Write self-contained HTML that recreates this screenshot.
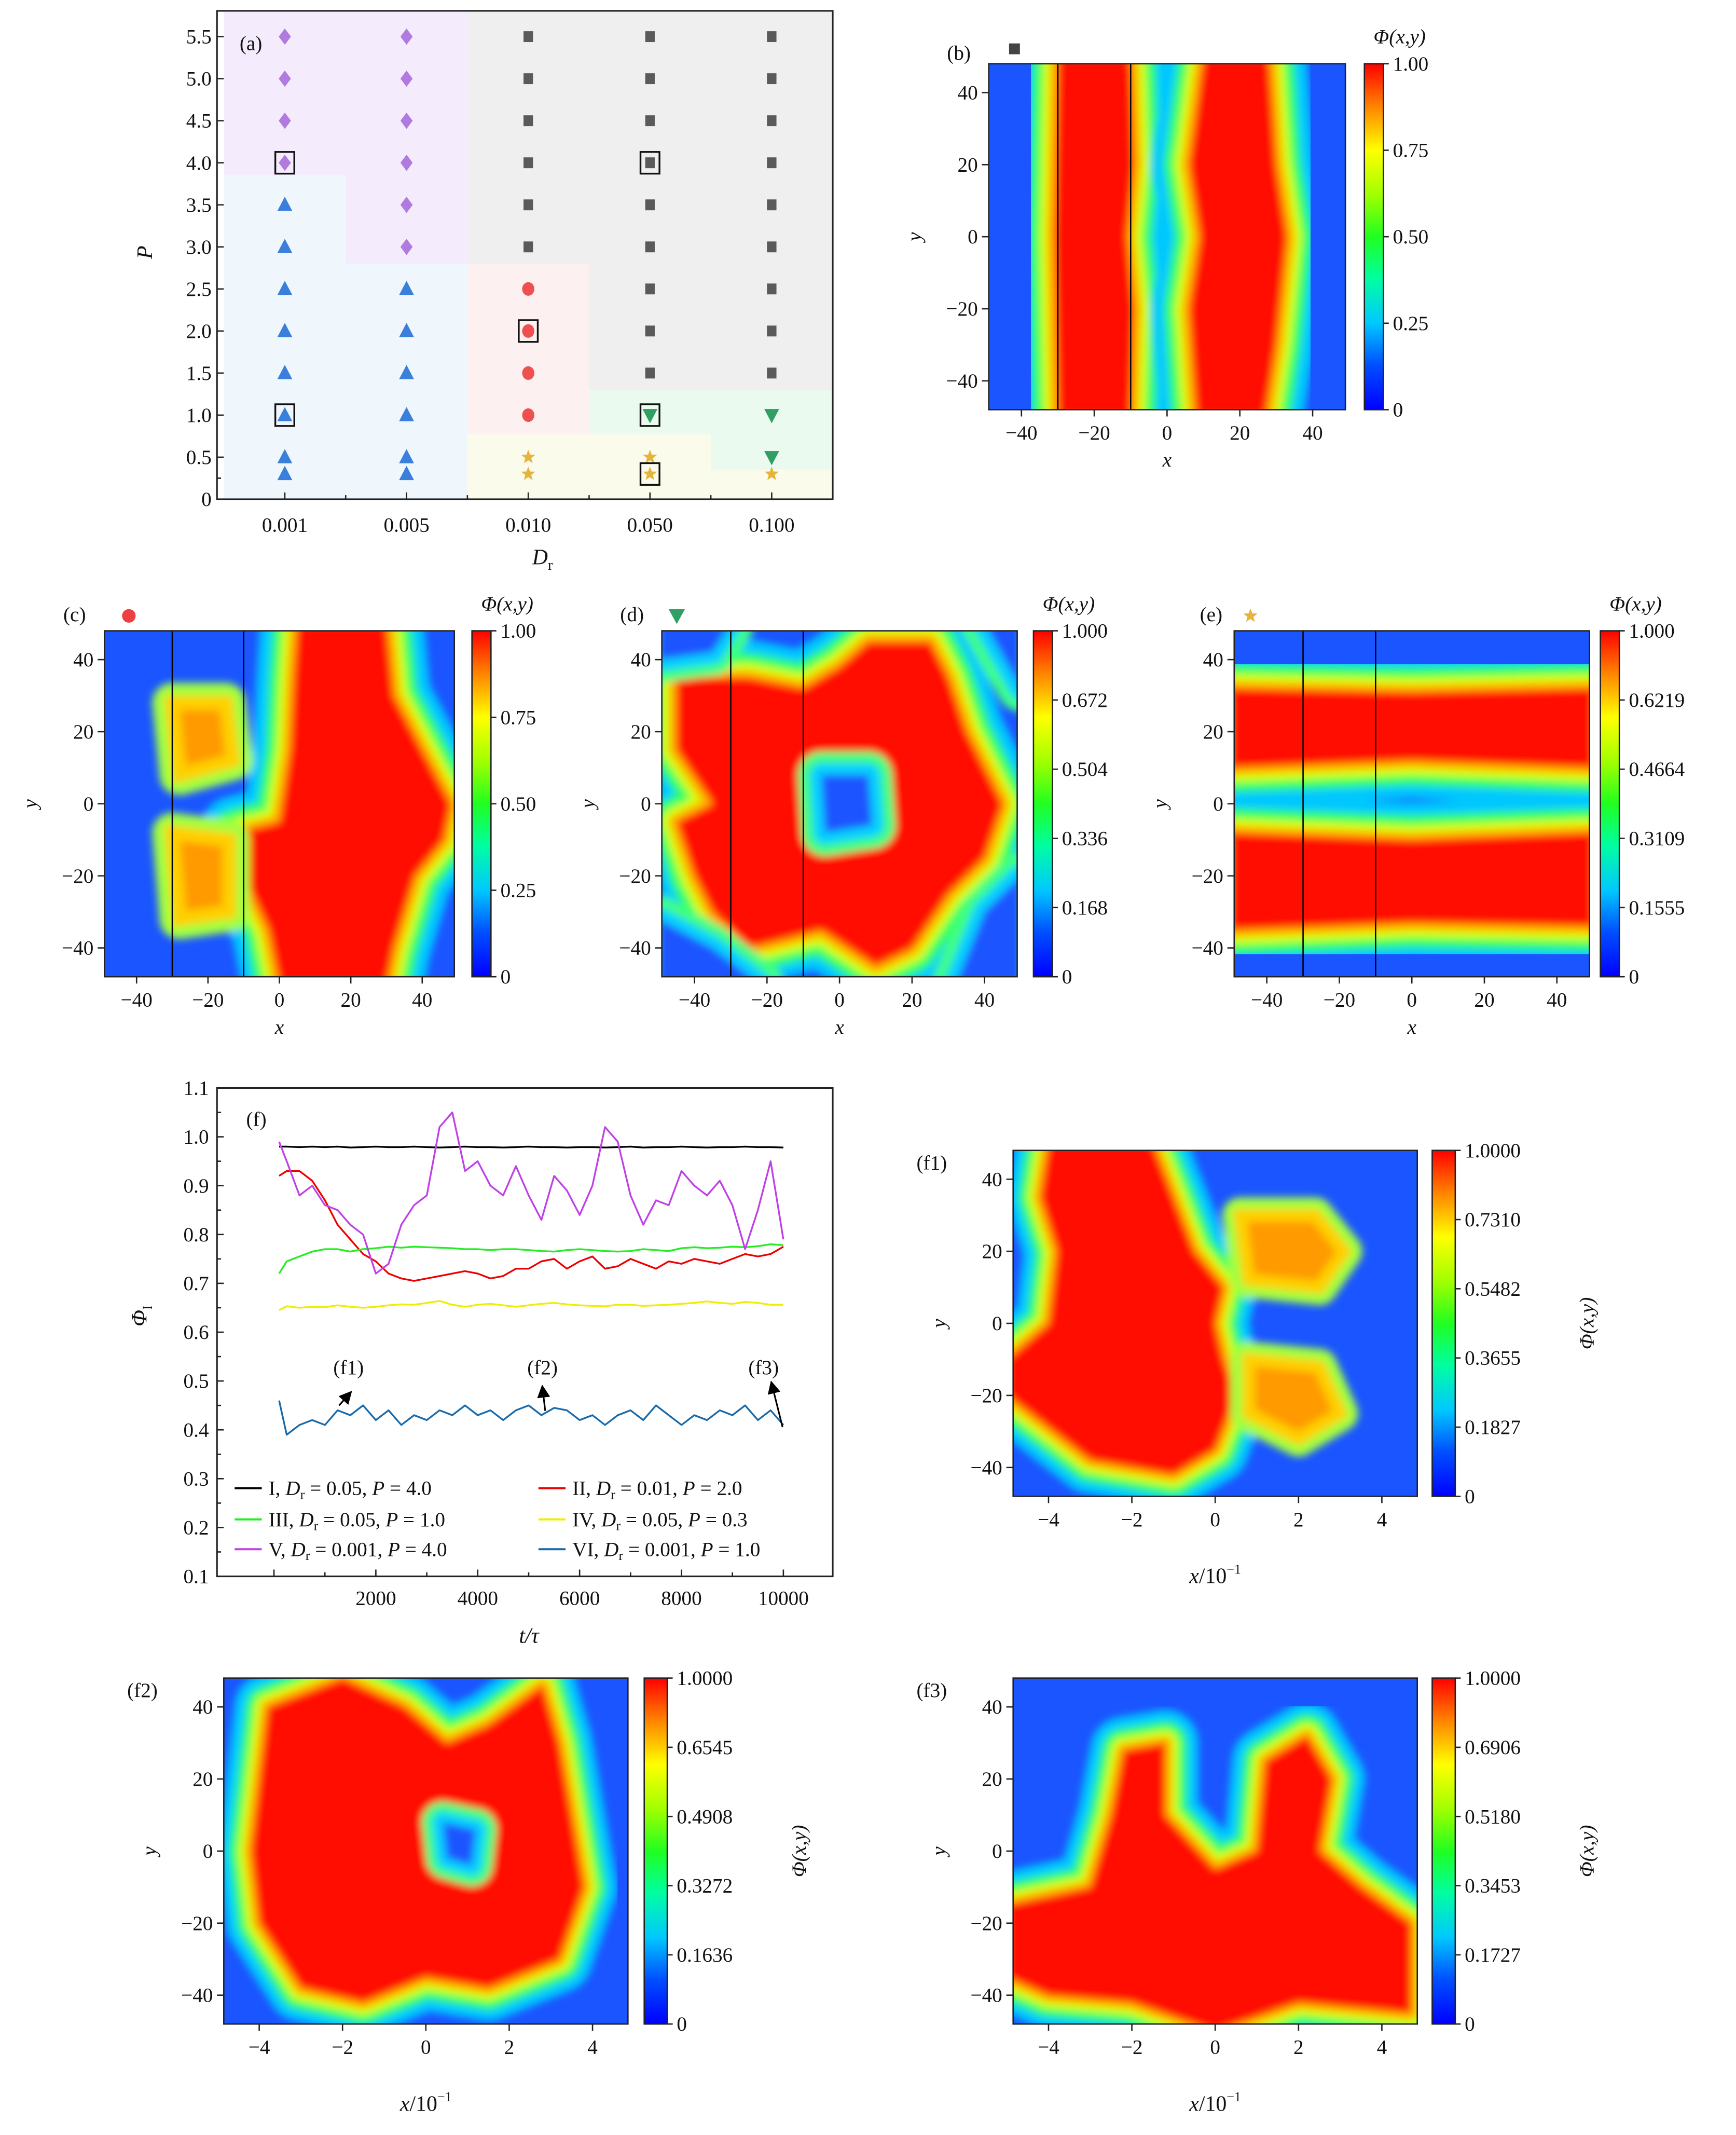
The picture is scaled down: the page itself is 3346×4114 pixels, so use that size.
<!DOCTYPE html>
<html><head><meta charset="utf-8">
<style>
html,body{margin:0;padding:0;background:#fff;}
svg{display:block;font-family:"Liberation Serif",serif;}
</style></head>
<body>
<svg id="fig" xmlns="http://www.w3.org/2000/svg" width="3346" height="4114" viewBox="0 0 1280 1573.8">
<defs>
<linearGradient id="jet" x1="0" y1="1" x2="0" y2="0">
<stop offset="0" stop-color="#0000ff"/><stop offset="0.13" stop-color="#0050ff"/><stop offset="0.25" stop-color="#00c8ff"/><stop offset="0.38" stop-color="#00ffa0"/><stop offset="0.5" stop-color="#20ff20"/><stop offset="0.62" stop-color="#a0ff00"/><stop offset="0.75" stop-color="#ffff00"/><stop offset="0.88" stop-color="#ff8000"/><stop offset="1" stop-color="#ff0000"/>
</linearGradient>
<filter id="blur" x="-10%" y="-10%" width="120%" height="120%"><feGaussianBlur stdDeviation="3"/></filter>
<marker id="arr" markerWidth="8" markerHeight="8" refX="6" refY="4" orient="auto"><path d="M0,0 L8,4 L0,8 z" fill="#000"/></marker>
</defs>
</svg>
<script>
// ---------- Panel (a) data ----------
const aCategories=['0.001','0.005','0.010','0.050','0.100'];
const aTicksP=[0,0.5,1,1.5,2,2.5,3,3.5,4,4.5,5,5.5];
const aPointCol=[0,0,0,0,0,0,0,0,0,0,0,0, 1,1,1,1,1,1,1,1,1,1,1,1, 2,2,2,2,2,2,2,2,2,2,2,2, 3,3,3,3,3,3,3,3,3,3,3,3, 4,4,4,4,4,4,4,4,4,4,4,4];
const aPointP=[0.3,0.5,1,1.5,2,2.5,3,3.5,4,4.5,5,5.5, 0.3,0.5,1,1.5,2,2.5,3,3.5,4,4.5,5,5.5, 0.3,0.5,1,1.5,2,2.5,3,3.5,4,4.5,5,5.5, 0.3,0.5,1,1.5,2,2.5,3,3.5,4,4.5,5,5.5, 0.3,0.5,1,1.5,2,2.5,3,3.5,4,4.5,5,5.5];
const aPointType=['tri','tri','tri','tri','tri','tri','tri','tri','dia','dia','dia','dia',
 'tri','tri','tri','tri','tri','tri','dia','dia','dia','dia','dia','dia',
 'star','star','cir','cir','cir','cir','sq','sq','sq','sq','sq','sq',
 'star','star','dtri','sq','sq','sq','sq','sq','sq','sq','sq','sq',
 'star','dtri','dtri','sq','sq','sq','sq','sq','sq','sq','sq','sq'];
const aBoxCol=[0,0,2,3,3,3];
const aBoxP=[4,1,2,4,1,0.3];
const aRegC0=[0,1,0,1,2,3,2,3,4,2,4];
const aRegC1=[0,1,0,1,2,4,2,3,4,3,4];
const aRegP0=[3.85,2.8,0,0,2.8,1.3,0.77,0.77,0.35,0,0];
const aRegP1=[6,6,3.85,2.8,6,6,2.8,1.3,1.3,0.77,0.35];
const aRegKind=['purple','purple','blue','blue','gray','gray','pink','green','green','yellow','yellow'];

// ---------- Panel (f) data ----------
const fT=[100,250,500,750,1000,1250,1500,1750,2000,2250,2500,2750,3000,3250,3500,3750,4000,4250,4500,4750,5000,5250,5500,5750,6000,6250,6500,6750,7000,7250,7500,7750,8000,8250,8500,8750,9000,9250,9500,9750,10000];
const fI=[0.98,0.98,0.979,0.98,0.979,0.98,0.978,0.979,0.98,0.979,0.979,0.98,0.979,0.978,0.979,0.98,0.979,0.979,0.978,0.979,0.98,0.979,0.979,0.978,0.979,0.979,0.978,0.979,0.98,0.978,0.979,0.979,0.98,0.979,0.978,0.979,0.979,0.98,0.979,0.979,0.978];
const fII=[0.92,0.93,0.93,0.91,0.87,0.82,0.79,0.76,0.745,0.72,0.71,0.705,0.71,0.715,0.72,0.725,0.72,0.71,0.715,0.73,0.73,0.745,0.75,0.73,0.745,0.755,0.73,0.735,0.75,0.74,0.73,0.745,0.74,0.75,0.745,0.74,0.75,0.76,0.755,0.76,0.775];
const fIII=[0.72,0.745,0.755,0.765,0.77,0.77,0.765,0.77,0.772,0.775,0.773,0.775,0.774,0.773,0.772,0.77,0.77,0.768,0.77,0.77,0.768,0.766,0.765,0.768,0.77,0.768,0.766,0.765,0.766,0.77,0.768,0.766,0.772,0.774,0.772,0.773,0.775,0.774,0.776,0.78,0.778];
const fIV=[0.645,0.653,0.65,0.652,0.651,0.655,0.652,0.65,0.652,0.655,0.657,0.656,0.66,0.664,0.656,0.652,0.656,0.658,0.655,0.652,0.655,0.658,0.66,0.657,0.655,0.654,0.653,0.656,0.656,0.654,0.655,0.656,0.658,0.66,0.663,0.66,0.658,0.662,0.66,0.656,0.656];
const fV=[0.99,0.95,0.88,0.9,0.86,0.85,0.82,0.8,0.72,0.74,0.82,0.86,0.88,1.02,1.05,0.93,0.95,0.9,0.88,0.94,0.88,0.83,0.92,0.89,0.84,0.9,1.02,0.99,0.88,0.82,0.87,0.86,0.93,0.9,0.88,0.91,0.86,0.77,0.85,0.95,0.79];
const fVI=[0.46,0.39,0.41,0.42,0.41,0.44,0.43,0.45,0.42,0.44,0.41,0.43,0.42,0.44,0.43,0.45,0.43,0.44,0.42,0.44,0.45,0.43,0.445,0.44,0.42,0.43,0.41,0.43,0.44,0.42,0.45,0.43,0.41,0.43,0.42,0.44,0.43,0.45,0.42,0.44,0.41];
const fSeriesNames=['I','II','III','IV','V','VI'];
const fSeriesDr=['0.05','0.01','0.05','0.05','0.001','0.001'];
const fSeriesP=['4.0','2.0','1.0','0.3','4.0','1.0'];
const fYTicks=[0.1,0.2,0.3,0.4,0.5,0.6,0.7,0.8,0.9,1.0,1.1];
const fXTicks=[2000,4000,6000,8000,10000];

// ---------- heatmap blob data (data coords) ----------
const hmB_red=[[[-30,50],[-10,50],[-9,20],[-11,0],[-9,-20],[-10,-50],[-30,-50],[-31,0]],
 [[10,50],[28,50],[30,20],[33,0],[30,-30],[27,-50],[8,-50],[6,-20],[9,0],[6,20]]];
const hmC_red=[[[5,50],[30,50],[32,30],[40,15],[48,0],[46,-10],[38,-20],[32,-40],[30,-50],[0,-50],[-3,-35],[-10,-20],[-12,-8],[0,-5],[3,15],[4,35]]];
const hmC_orange=[[[-30,28],[-15,28],[-13,12],[-28,8]],[[-30,-8],[-14,-10],[-14,-30],[-28,-32]]];
const hmD_red=[[[-45,35],[-25,35],[-10,32],[0,38],[8,45],[25,45],[30,35],[35,20],[40,10],[45,0],[40,-15],[30,-25],[20,-40],[10,-45],[-5,-35],[-25,-40],[-35,-30],[-40,-20],[-45,-5],[-35,0],[-45,15]]];
const hmD_hole=[[[-5,8],[8,8],[9,-6],[-4,-8]],[[32,-50],[50,-50],[50,-20],[40,-30]],[[-50,50],[-30,50],[-35,42],[-50,40]],[[40,50],[50,50],[50,32]],[[-50,-50],[-22,-50],[-35,-40],[-50,-32]]];
const hmE_red=[[[-50,32],[0,31],[50,32],[50,10],[0,12],[-50,10]],[[-50,-8],[0,-10],[50,-8],[50,-34],[0,-33],[-50,-35]]];
const hmF1_red=[[[-40,50],[-15,50],[-10,35],[-5,20],[2,10],[0,0],[2,-10],[5,-20],[0,-35],[-10,-42],[-30,-38],[-50,-20],[-50,-10],[-40,0],[-38,20],[-42,35]]];
const hmF1_orange=[[[6,30],[24,30],[31,20],[25,10],[8,12]],[[8,-10],[25,-12],[30,-25],[20,-32],[8,-25]]];
const hmF2_red=[[[-38,40],[-20,48],[-5,40],[5,30],[15,35],[28,46],[32,30],[35,10],[38,-10],[32,-30],[15,-38],[0,-35],[-15,-42],[-30,-38],[-40,-20],[-42,0],[-40,20]]];
const hmF2_hole=[[[4,8],[12,6],[11,-4],[5,-2]]];
const hmF3_red=[[[-50,-15],[-30,-10],[-25,10],[-22,28],[-12,30],[-12,10],[0,-5],[10,0],[12,25],[22,32],[28,20],[25,0],[35,-10],[47,-20],[47,-45],[20,-42],[0,-50],[-20,-42],[-40,-40],[-50,-35]]];

// ---------- helpers ----------
const NS='http://www.w3.org/2000/svg';
const svg=document.getElementById('fig');
function mk(tag,attrs,parent,text){const e=document.createElementNS(NS,tag);for(const k in attrs)e.setAttribute(k,attrs[k]);if(text!==undefined)e.textContent=text;(parent||svg).appendChild(e);return e;}
function T(x,y,s,size,anchor,style,parent){const e=mk('text',{x:x,y:y,'font-size':size||15,'text-anchor':anchor||'middle','font-style':style||'normal',fill:'#111'},parent,s);return e;}
function fmt(v){return v<0?'\u2212'+Math.abs(v):String(v);}

// ================= Panel (a) =================
(function(){
 const X0=160,X1=614,Y0=8,Y1=368;
 const xa=i=>210+i*89.75, ya=p=>368-62*p;
 const g=mk('g',{});
 
 
 const clipId='clipA';
 const cp=mk('clipPath',{id:clipId},g);mk('rect',{x:X0,y:Y0,width:X1-X0,height:Y1-Y0},cp);
 const col={purple:'#f4ecfc',blue:'#eff7fd',gray:'#efefef',pink:'#fdf0f0',green:'#eafaee',yellow:'#fbfbec'};
 const rg=mk('g',{'clip-path':'url(#'+clipId+')'},g);
 for(let i=0;i<aRegKind.length;i++){
  const r=mk('rect',{x:xa(aRegC0[i]-0.5),y:ya(aRegP1[i]),width:xa(aRegC1[i]+0.5)-xa(aRegC0[i]-0.5),height:ya(aRegP0[i])-ya(aRegP1[i]),fill:col[aRegKind[i]]},rg);
  
  
 }
 const mc={tri:'#3a7fdc',dia:'#b07ade',sq:'#5a5a5a',cir:'#ee5050',dtri:'#2f9f62',star:'#e6b43c'};
 for(let i=0;i<aPointType.length;i++){
  const x=xa(aPointCol[i]),y=ya(aPointP[i]),t=aPointType[i];let e;
  if(t==='tri')e=mk('path',{d:`M${x},${y-6}L${x+5.5},${y+4.5}L${x-5.5},${y+4.5}Z`,fill:mc[t]},g);
  else if(t==='dtri')e=mk('path',{d:`M${x},${y+6}L${x+5.5},${y-4.5}L${x-5.5},${y-4.5}Z`,fill:mc[t]},g);
  else if(t==='dia')e=mk('path',{d:`M${x},${y-6}L${x+4.5},${y}L${x},${y+6}L${x-4.5},${y}Z`,fill:mc[t]},g);
  else if(t==='sq')e=mk('rect',{x:x-3.5,y:y-4,width:7,height:8,fill:mc[t]},g);
  else if(t==='cir')e=mk('ellipse',{cx:x,cy:y,rx:4.5,ry:5,fill:mc[t]},g);
  else{let d='';for(let k=0;k<10;k++){const r=k%2?2.3:5.5,a=-Math.PI/2+k*Math.PI/5;d+=(k?'L':'M')+(x+r*Math.cos(a)).toFixed(2)+','+(y+r*Math.sin(a)).toFixed(2);}e=mk('path',{d:d+'Z',fill:mc[t]},g);}
  
  
 }
 for(let i=0;i<aBoxCol.length;i++){
  const b=mk('rect',{x:xa(aBoxCol[i])-7,y:ya(aBoxP[i])-8,width:14,height:16,fill:'none',stroke:'#111','stroke-width':1.3},g);
  
  
 }
 const fr=mk('rect',{x:X0,y:Y0,width:X1-X0,height:Y1-Y0,fill:'none',stroke:'#222','stroke-width':1.2},g);
 
 
 aTicksP.forEach(p=>{mk('line',{x1:X0,x2:X0+5,y1:ya(p),y2:ya(p),stroke:'#222'},g);const t=T(X0-4,ya(p)+5,p===0?'0':p.toFixed(1),15,'end',null,g);});
 mk('line',{x1:X0,x2:X0+3,y1:ya(0.25),y2:ya(0.25),stroke:'#222'},g);
 aCategories.forEach((c,i)=>{mk('line',{x1:xa(i),x2:xa(i),y1:Y1,y2:Y1-5,stroke:'#222'},g);const t=T(xa(i),392,c,15,'middle',null,g);
  if(i<4)mk('line',{x1:xa(i+0.5),x2:xa(i+0.5),y1:Y1,y2:Y1-3,stroke:'#222'},g);});
 const la=T(185,37,'(a)',15,'middle',null,g);
 const yl=T(0,0,'P',16,'middle','italic',g);yl.setAttribute('transform','translate(112,186) rotate(-90)');
 const xl=T(400,416,'',16,'middle',null,g);xl.innerHTML='<tspan font-style="italic">D</tspan><tspan font-size="11" dy="4">r</tspan>';
})();

// ================= Heatmaps =================
function heat(cfg){
 const {name,x0,x1,y0,y1,dom,cbx,cbw,cbTicks,reds,oranges,holes,xLabels,fstyle,label,labelXY,marker}=cfg;
 const g=mk('g',{});
 
 
 const xs=v=>x0+(v+dom)/(2*dom)*(x1-x0);
 const ys=v=>y0+(48-v)/96*(y1-y0);
 const id='clip_'+name;
 const cp=mk('clipPath',{id:id},g);mk('rect',{x:x0,y:y0,width:x1-x0,height:y1-y0},cp);
 const hg=mk('g',{'clip-path':'url(#'+id+')'},g);
 const bg=mk('rect',{x:x0,y:y0,width:x1-x0,height:y1-y0,fill:'#1a55ff'},hg);
 
 
 const bl=mk('g',{filter:'url(#blur)'},hg);
 const sc=(fstyle?0.62:0.8)*(x1-x0)/98;
 const pathOf=pts=>'M'+pts.map(p=>xs(p[0]).toFixed(1)+','+ys(p[1]).toFixed(1)).join('L')+'Z';
 function blob(pts,core,kind){
  const d=pathOf(pts);
  const layers=[['#00c8ff',26*sc],['#30ff60',17*sc],['#d8ff00',10*sc],['#ffb000',5*sc]];
  layers.forEach(l=>mk('path',{d:d,fill:l[0],stroke:l[0],'stroke-width':l[1],'stroke-linejoin':'round'},bl));
  const c=mk('path',{d:d,fill:core},bl);
  
  
 }
 (reds||[]).forEach(p=>blob(p,'#ff0a00','high-density-region'));
 (oranges||[]).forEach(p=>{const d=pathOf(p);mk('path',{d:d,fill:'#c8ff20',stroke:'#a0ff40','stroke-width':14*sc,'stroke-linejoin':'round'},bl);const c=mk('path',{d:d,fill:'#ff9a00',stroke:'#ffd000','stroke-width':5*sc},bl);});
 (holes||[]).forEach(p=>{const d=pathOf(p);mk('path',{d:d,fill:'#40ff80',stroke:'#40ff80','stroke-width':16*sc,'stroke-linejoin':'round'},bl);mk('path',{d:d,fill:'#00d0ff',stroke:'#00d0ff','stroke-width':8*sc,'stroke-linejoin':'round'},bl);const c=mk('path',{d:d,fill:'#1a55ff'},bl);});
 if(cfg.lines){cfg.lines.forEach(v=>{const l=mk('line',{x1:xs(v),x2:xs(v),y1:y0,y2:y1,stroke:'#000','stroke-width':1},g);});}
 const fr=mk('rect',{x:x0,y:y0,width:x1-x0,height:y1-y0,fill:'none',stroke:'#222','stroke-width':1},g);
 
 
 [-40,-20,0,20,40].forEach((v,i)=>{
  mk('line',{x1:xs(v),x2:xs(v),y1:y1,y2:y1+5,stroke:'#222'},g);
  const t=T(xs(v),y1+22,xLabels[i],15,'middle',null,g);
  mk('line',{x1:x0,x2:x0-5,y1:ys(v),y2:ys(v),stroke:'#222'},g);
  const u=T(x0-8,ys(v)+5,fmt(v),15,'end',null,g);
 });
 const yl=T(0,0,'y',15,'middle','italic',g);yl.setAttribute('transform',`translate(${x0-50},${(y0+y1)/2}) rotate(-90)`);
 if(fstyle){const xl=T((x0+x1)/2,y1+64,'',16,'middle',null,g);xl.innerHTML='<tspan font-style="italic">x</tspan>/10<tspan font-size="10" dy="-7">\u22121</tspan>';}
 else{const xl=T((x0+x1)/2,y1+42,'x',15,'middle','italic',g);}
 const cb=mk('rect',{x:cbx,y:y0,width:cbw,height:y1-y0,fill:'url(#jet)',stroke:'#222','stroke-width':1},g);
 
 
 const n=cbTicks.length-1;
 cbTicks.forEach((s,i)=>{const y=y1-(y1-y0)*i/n;mk('line',{x1:cbx+cbw,x2:cbx+cbw+4,y1:y,y2:y,stroke:'#222'},g);const t=T(cbx+cbw+7,y+5,s,15,'start',null,g);});
 if(fstyle){const t=T(0,0,'\u03A6(x,y)',15,'middle','italic',g);t.setAttribute('transform',`translate(${cbx+cbw+102},${(y0+y1)/2}) rotate(-90)`);}
 else{const t=T(cbx+cbw+12,y0-15,'\u03A6(x,y)',15,'middle','italic',g);}
 const pl=T(labelXY[0],labelXY[1],label,15,'middle',null,g);
 if(marker){let e;const [mx,my,t,c]=marker;
  if(t==='sq')e=mk('rect',{x:mx-4,y:my-4,width:8,height:8,fill:c},g);
  else if(t==='cir')e=mk('circle',{cx:mx,cy:my,r:5,fill:c},g);
  else if(t==='dtri')e=mk('path',{d:`M${mx},${my+6}L${mx+6},${my-5}L${mx-6},${my-5}Z`,fill:c},g);
  else{let d='';for(let k=0;k<10;k++){const r=k%2?2.3:5.5,a=-Math.PI/2+k*Math.PI/5;d+=(k?'L':'M')+(mx+r*Math.cos(a)).toFixed(2)+','+(my+r*Math.sin(a)).toFixed(2);}e=mk('path',{d:d+'Z',fill:c},g);}
  }
}
const L1=['\u221240','\u221220','0','20','40'], L2=['\u22124','\u22122','0','2','4'];
heat({name:'panel-b-heatmap',x0:729,x1:992,y0:47,y1:302,dom:49,cbx:1006,cbw:14,cbTicks:['0','0.25','0.50','0.75','1.00'],reds:hmB_red,xLabels:L1,lines:[-30,-10],label:'(b)',labelXY:[707,44],marker:[748,36,'sq','#444']});
heat({name:'panel-c-heatmap',x0:77,x1:335,y0:465,y1:720,dom:49,cbx:348,cbw:14,cbTicks:['0','0.25','0.50','0.75','1.00'],reds:hmC_red,oranges:hmC_orange,xLabels:L1,lines:[-30,-10],label:'(c)',labelXY:[55,458],marker:[95,454,'cir','#ee4040']});
heat({name:'panel-d-heatmap',x0:488,x1:750,y0:465,y1:720,dom:49,cbx:762,cbw:14,cbTicks:['0','0.168','0.336','0.504','0.672','1.000'],reds:hmD_red,holes:hmD_hole,xLabels:L1,lines:[-30,-10],label:'(d)',labelXY:[466,458],marker:[499,454,'dtri','#2f9f62']});
heat({name:'panel-e-heatmap',x0:910,x1:1172,y0:465,y1:720,dom:49,cbx:1180,cbw:14,cbTicks:['0','0.1555','0.3109','0.4664','0.6219','1.000'],reds:hmE_red,xLabels:L1,lines:[-30,-10],label:'(e)',labelXY:[893,458],marker:[922,454,'star','#e6b43c']});
heat({name:'panel-f1-heatmap',x0:747,x1:1045,y0:848,y1:1103,dom:48.5,cbx:1056,cbw:17,cbTicks:['0','0.1827','0.3655','0.5482','0.7310','1.0000'],reds:hmF1_red,oranges:hmF1_orange,xLabels:L2,fstyle:true,label:'(f1)',labelXY:[687,862]});
heat({name:'panel-f2-heatmap',x0:165,x1:463,y0:1237,y1:1492,dom:48.5,cbx:475,cbw:17,cbTicks:['0','0.1636','0.3272','0.4908','0.6545','1.0000'],reds:hmF2_red,holes:hmF2_hole,xLabels:L2,fstyle:true,label:'(f2)',labelXY:[105,1251]});
heat({name:'panel-f3-heatmap',x0:747,x1:1045,y0:1237,y1:1492,dom:48.5,cbx:1056,cbw:17,cbTicks:['0','0.1727','0.3453','0.5180','0.6906','1.0000'],reds:hmF3_red,xLabels:L2,fstyle:true,label:'(f3)',labelXY:[687,1251]});

// ================= Panel (f) line chart =================
(function(){
 const X0=160,X1=614,Y0=802,Y1=1162;
 const xs=t=>202+t*0.03756, ys=v=>Y1-(v-0.1)*360;
 const g=mk('g',{});
 
 
 const fr=mk('rect',{x:X0,y:Y0,width:X1-X0,height:Y1-Y0,fill:'#fff',stroke:'#222','stroke-width':1.2},g);
 
 
 fYTicks.forEach(v=>{mk('line',{x1:X0,x2:X0+5,y1:ys(v),y2:ys(v),stroke:'#222'},g);if(v<1.05)mk('line',{x1:X0,x2:X0+3,y1:ys(v+0.05),y2:ys(v+0.05),stroke:'#222'},g);const t=T(X0-6,ys(v)+5,v.toFixed(1),15,'end',null,g);});
 [0].concat(fXTicks).forEach(v=>{mk('line',{x1:xs(v),x2:xs(v),y1:Y1,y2:Y1-5,stroke:'#222'},g);if(v<10000)mk('line',{x1:xs(v+1000),x2:xs(v+1000),y1:Y1,y2:Y1-3,stroke:'#222'},g);});
 fXTicks.forEach(v=>{const t=T(xs(v),1183,String(v),15,'middle',null,g);});
 const series=[fI,fII,fIII,fIV,fV,fVI];
 const colors=['#000000','#ee0000','#22ee22','#eeee00','#c040e8','#1a6aaa'];
 series.forEach((s,k)=>{
  const d='M'+s.map((v,i)=>xs(fT[i]).toFixed(1)+','+ys(v).toFixed(1)).join('L');
  const p=mk('path',{d:d,fill:'none',stroke:colors[k],'stroke-width':1.3,'stroke-linejoin':'round'},g);
  
  
 });
 const lx=[173,397],ly=[1097,1120,1142];
 series.forEach((s,k)=>{
  const x=lx[k%2],y=ly[Math.floor(k/2)];
  mk('line',{x1:x,x2:x+20,y1:y,y2:y,stroke:colors[k],'stroke-width':1.5},g);
  const t=T(x+25,y+5,'',15,'start',null,g);
  t.innerHTML=`${fSeriesNames[k]}, <tspan font-style="italic">D</tspan><tspan font-size="10" dy="3">r</tspan><tspan dy="-3"> = ${fSeriesDr[k]}, </tspan><tspan font-style="italic">P</tspan> = ${fSeriesP[k]}`;
  
  
 });
 const lab=T(189,830,'(f)',15,'middle',null,g);
 [['(f1)',257,1013,250,1036,258,1027],['(f2)',400,1013,402,1040,400,1023],['(f3)',563,1013,577,1052,569,1020]].forEach(a=>{
  const t=T(a[1],a[2],a[0],15,'middle',null,g);
  const l=mk('line',{x1:a[3],y1:a[4],x2:a[5],y2:a[6],stroke:'#000','stroke-width':1.2,'marker-end':'url(#arr)'},g);
 });
 const yl=T(0,0,'',16,'middle',null,g);yl.innerHTML='<tspan font-style="italic">\u03A6</tspan><tspan font-size="10" dy="4">I</tspan>';yl.setAttribute('transform','translate(108,970) rotate(-90)');
 const xl=T(390,1211,'t/\u03C4',16,'middle','italic',g);
})();
</script>
</body></html>
